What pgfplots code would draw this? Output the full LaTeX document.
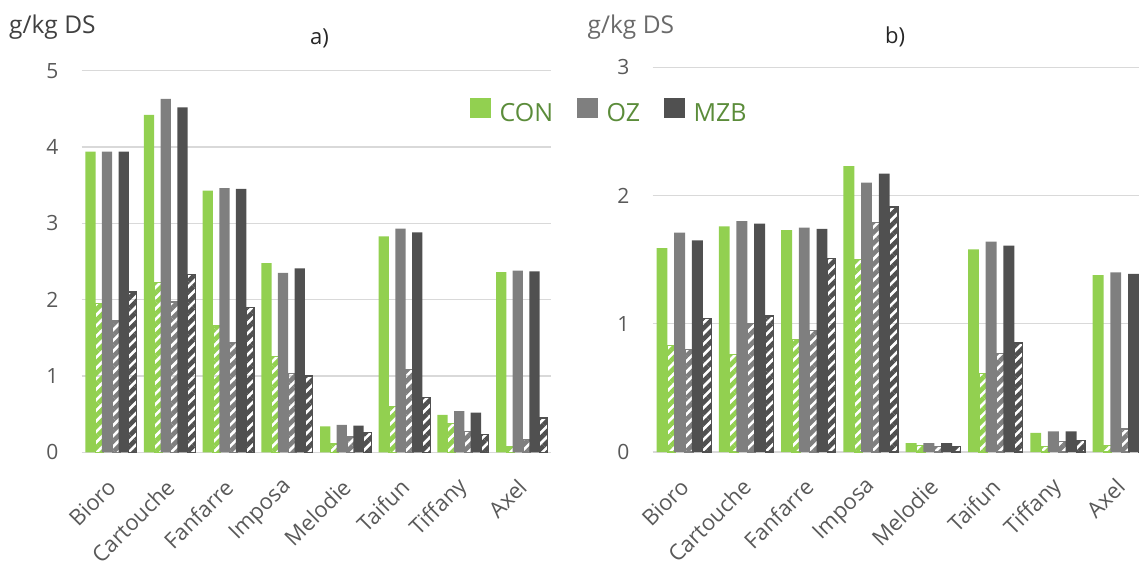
\documentclass[border=0pt]{standalone}
\usepackage{fontspec}
\setmainfont{Open Sans}
\usepackage{pgfplots}
\usepackage{pgfplotstable}
\pgfplotsset{compat=1.18}
\usetikzlibrary{patterns.meta}

\definecolor{con}{HTML}{92D050}
\definecolor{oz}{HTML}{7F7F7F}
\definecolor{mzb}{HTML}{505050}
\definecolor{legtxt}{HTML}{5B8C3A}
\definecolor{ticktxt}{HTML}{595959}
\definecolor{gridc}{HTML}{D9D9D9}
\definecolor{unitA}{HTML}{404040}
\definecolor{unitB}{HTML}{6A6A6A}
\definecolor{titc}{HTML}{262626}

% panel a: solid bars and hatched bars per cultivar
\pgfplotstableread{
x con  oz   mzb  conh ozh  mzbh
0 3.94 3.94 3.94 1.95 1.73 2.10
1 4.42 4.63 4.52 2.23 1.97 2.33
2 3.43 3.46 3.45 1.66 1.44 1.90
3 2.48 2.35 2.41 1.26 1.03 1.00
4 0.34 0.36 0.35 0.11 0.20 0.26
5 2.83 2.93 2.88 0.60 1.08 0.72
6 0.49 0.54 0.52 0.38 0.27 0.23
7 2.36 2.38 2.37 0.08 0.17 0.45
}\dataA

% panel b
\pgfplotstableread{
x con  oz   mzb  conh ozh  mzbh
0 1.59 1.71 1.65 0.83 0.80 1.04
1 1.76 1.80 1.78 0.76 1.00 1.06
2 1.73 1.75 1.74 0.88 0.95 1.51
3 2.23 2.10 2.17 1.50 1.79 1.91
4 0.07 0.07 0.07 0.05 0.04 0.045
5 1.58 1.64 1.61 0.61 0.77 0.85
6 0.15 0.16 0.16 0.04 0.08 0.09
7 1.38 1.40 1.39 0.05 0.18 0.47
}\dataB

\pgfplotsset{
  panel/.style={
    scale only axis,
    xmin=-0.5, xmax=7.5, ymin=0,
    axis line style={draw=none},
    major tick length=0pt,
    ymajorgrids,
    grid style={gridc, line width=1.4pt},
    xtick={0,...,7},
    xticklabels={Bioro,Cartouche,Fanfarre,Imposa,Melodie,Taifun,Tiffany,Axel},
    /pgf/number format/assume math mode=true,
    tick label style={font=\fontsize{21}{25}\selectfont, text=ticktxt},
    yticklabel style={anchor=east, inner sep=0pt, xshift=-23pt},
    xticklabel style={font=\fontsize{22}{26}\selectfont, xshift=1pt, yshift=-31pt, rotate=45, anchor=east, inner sep=0pt},
  },
  solidbar/.style={ybar, bar width=0.175, fill=#1, draw=none},
  hatchbar/.style={ybar, bar width=0.133, forget plot, draw=#1, line width=1.2pt,
    pattern={Lines[angle=45, distance=7.5pt, line width=4.6pt]}, pattern color=#1},
}

\begin{document}
\begin{tikzpicture}[x=1pt, y=1pt]
\useasboundingbox (0,0) rectangle (1139,565);

% ---- a) ----
\begin{axis}[panel,
  at={(81.5pt,112.7pt)}, anchor=south west,
  width=469.5pt, height=381.6pt,
  ymax=5, ytick={0,...,5},
  legend columns=3,
  legend style={at={(0.8275,0.928)}, anchor=north west, draw=none, fill=none,
    inner sep=0pt, outer sep=0pt,
    font=\fontsize{25}{28}\selectfont,
    nodes={inner sep=0pt, outer sep=0pt, text=legtxt},
    /tikz/every odd column/.append style={column sep=9pt},
    /tikz/every even column/.append style={column sep=24pt}},
  legend image code/.code={\fill[#1, draw=none] (0pt,-4.8pt) rectangle (20.5pt,15.2pt);},
]
\addplot[hatchbar=con, bar shift=-0.194] table[x=x, y=conh]{\dataA};
\addplot[hatchbar=oz,  bar shift=0.089]  table[x=x, y=ozh]{\dataA};
\addplot[hatchbar=mzb, bar shift=0.374]  table[x=x, y=mzbh]{\dataA};
\addplot[solidbar=con, bar shift=-0.348] table[x=x, y=con]{\dataA};
\addlegendentry{CON}
\addplot[solidbar=oz,  bar shift=-0.065] table[x=x, y=oz]{\dataA};
\addlegendentry{OZ}
\addplot[solidbar=mzb, bar shift=0.220]  table[x=x, y=mzb]{\dataA};
\addlegendentry{MZB}
\end{axis}

% ---- b) ----
\begin{axis}[panel,
  at={(652.5pt,113pt)}, anchor=south west,
  width=498.4pt, height=384.7pt,
  ymax=3, ytick={0,...,3},
]
\addplot[hatchbar=con, bar shift=-0.194] table[x=x, y=conh]{\dataB};
\addplot[hatchbar=oz,  bar shift=0.089]  table[x=x, y=ozh]{\dataB};
\addplot[hatchbar=mzb, bar shift=0.374]  table[x=x, y=mzbh]{\dataB};
\addplot[solidbar=con, bar shift=-0.348] table[x=x, y=con]{\dataB};
\addplot[solidbar=oz,  bar shift=-0.065] table[x=x, y=oz]{\dataB};
\addplot[solidbar=mzb, bar shift=0.220]  table[x=x, y=mzb]{\dataB};
\end{axis}

% units and panel titles
\node[anchor=base west, inner sep=0pt, font=\fontsize{24.5}{28}\selectfont, text=unitA] at (9,531) {g/kg DS};
\node[anchor=base west, inner sep=0pt, font=\fontsize{24.5}{28}\selectfont, text=unitB] at (587.5,531) {g/kg DS};
\node[anchor=base west, inner sep=0pt, font=\fontsize{22}{26}\selectfont, text=titc] at (310,520) {a)};
\node[anchor=base west, inner sep=0pt, font=\fontsize{22}{26}\selectfont, text=titc] at (885,521) {b)};
\end{tikzpicture}
\end{document}
